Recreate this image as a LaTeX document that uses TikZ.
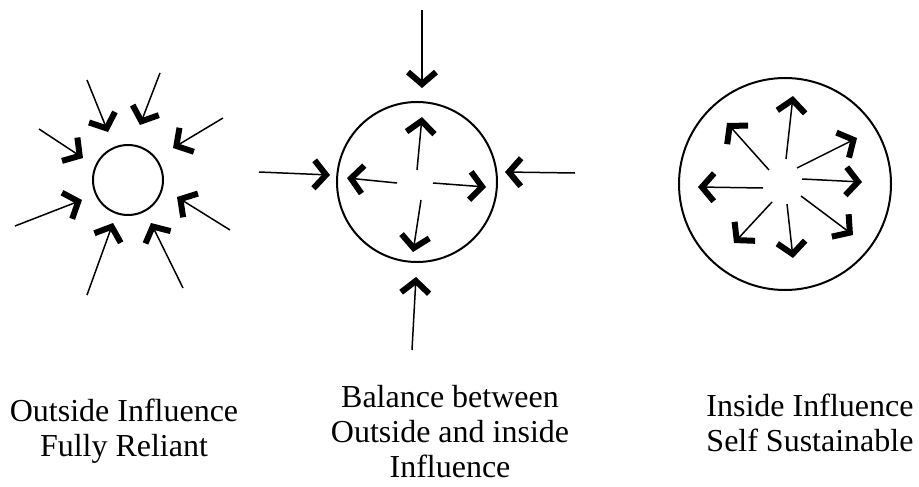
\documentclass[tikz,border=0pt]{standalone}
\usepackage{fontspec}
\setmainfont{Liberation Serif}
\usetikzlibrary{arrows.meta}
\begin{document}
\begin{tikzpicture}[x=1pt,y=-1pt,
  ring/.style={circle,draw,line width=2pt,inner sep=0pt},
  inarr/.style={line width=1.5pt,-{Straight Barb[length=12pt,width=28pt,line width=6pt]}},
  lbl/.style={align=center,font=\fontsize{32}{35}\selectfont,inner sep=0pt,anchor=base}]
\useasboundingbox (0,0) rectangle (919,487);
% diagram 1
\node[ring,minimum size=70pt] (c1) at (128,180) {};
\foreach \i/\tx/\ty/\hx/\hy in {1/87/80/108/132, 2/160/73/140/125, 3/223/118/173/148, 4/39/129/83/158, 5/15/226/82/200, 6/230/230/177/197, 7/87/295/113/223, 8/183/288/151/223}{
  \coordinate (a\i t) at (\tx,\ty);
  \coordinate (a\i h) at (\hx,\hy);
  \draw[inarr] (a\i t) -- (a\i h);
}
% diagram 2
\node[ring,minimum size=160pt] (c2) at (417,182) {};
\foreach \i/\tx/\ty/\hx/\hy in {1/422/10/422/88, 2/259/172/330/175, 3/575/173/505/172, 4/412/350/416/277, 5/417/170/422/117, 6/397/183/347/178, 7/433/183/486/187, 8/421/200/413/252}{
  \coordinate (b\i t) at (\tx,\ty);
  \coordinate (b\i h) at (\hx,\hy);
  \draw[inarr] (b\i t) -- (b\i h);
}
% diagram 3
\node[ring,minimum size=212pt] (c3) at (785,184) {};
\foreach \i/\tx/\ty/\hx/\hy in {1/786/159/793/96, 2/769/170/727/123, 3/797/168/857/138, 4/802/179/862/182, 5/763/188/698/187, 6/801/196/853/235, 7/787/204/793/258, 8/772/202/734/243}{
  \coordinate (d\i t) at (\tx,\ty);
  \coordinate (d\i h) at (\hx,\hy);
  \draw[inarr] (d\i t) -- (d\i h);
}
% labels
\node[lbl] (l1) at (124,456) {Outside Influence\\Fully Reliant};
\node[lbl] (l2) at (450,477) {Balance between\\Outside and inside\\Influence};
\node[lbl] (l3) at (810,451) {Inside Influence\\Self Sustainable};
\end{tikzpicture}
\end{document}
